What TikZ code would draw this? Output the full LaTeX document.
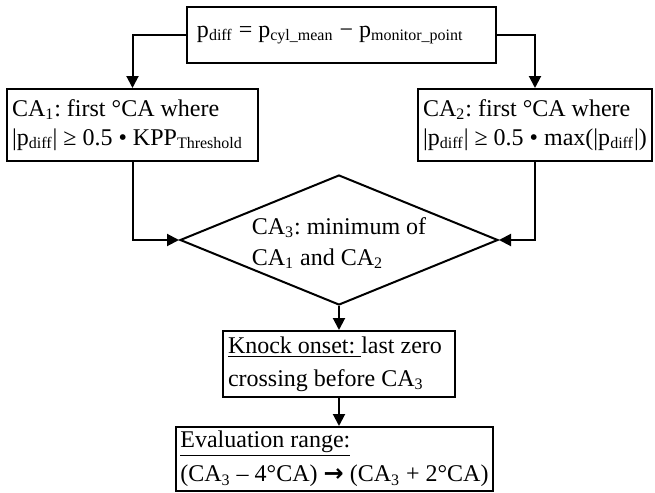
\documentclass[tikz,border=0pt]{standalone}
\usepackage{fontspec}
\setmainfont{Liberation Serif}
\newfontfamily\arrowfont{DejaVu Sans}
\usetikzlibrary{arrows.meta,shapes.geometric}

\tikzset{
  box/.style={draw, line width=1pt, align=flush left, inner xsep=2.5pt, inner ysep=0pt},
  flow/.style={line width=1pt, ->},
}

\begin{document}
\frenchspacing
\begin{tikzpicture}[x=0.5pt, y=-0.5pt, >={Triangle[length=6pt,width=6pt]},
    font=\fontsize{12}{14.5}\selectfont]
    \useasboundingbox (0,0) rectangle (655,493);
    % boxes
    \node[box, inner xsep=5pt, text width=144.5pt, minimum height=28pt] (pdiff) at (341.5,35)
        {p\textsubscript{diff} = p\textsubscript{cyl\_mean} − p\textsubscript{monitor\_point}};
    \node[box, text width=120.5pt, minimum height=36pt] (ca1) at (132.5,125)
        {CA\textsubscript{1}: first °CA where\\|p\textsubscript{diff}| ≥ 0.5 • KPP\textsubscript{Threshold}};
    \node[box, align=left, minimum width=117pt, minimum height=36pt] (ca2) at (535,125)
        {CA\textsubscript{2}: first °CA where\\|p\textsubscript{diff}| ≥ 0.5 • max(|p\textsubscript{diff}|)};
    \node[draw, line width=1pt, diamond, aspect=2.45, minimum width=159pt, minimum height=65pt,
        inner sep=0pt, align=left, font=\fontsize{12}{15.5}\selectfont] (ca3) at (339,240)
        {\\[-4pt]CA\textsubscript{3}: minimum of\\CA\textsubscript{1} and CA\textsubscript{2}};
    \node[box, text width=111pt, minimum height=33pt, font=\fontsize{12}{16.5}\selectfont] (knock) at (339,364)
        {\underline{Knock onset: }last zero\\crossing before CA\textsubscript{3}};
    \node[box, align=left, inner xsep=2pt, minimum width=157.5pt, minimum height=32pt,
        font=\fontsize{12}{17}\selectfont] (eval) at (334.5,459)
        {\underline{Evaluation range:}\\(CA\textsubscript{3} – 4°CA) {\arrowfont\bfseries →} (CA\textsubscript{3} + 2°CA)};
    % connectors
    \draw[flow] (pdiff.west) -| (ca1.north);
    \draw[flow] (pdiff.east) -| (ca2.north);
    \draw[flow] (ca1.south) |- (ca3.west);
    \draw[flow] (ca2.south) |- (ca3.east);
    \draw[flow] (ca3.south) -- (knock.north);
    \draw[flow] (knock.south) -- (knock.south |- eval.north);
\end{tikzpicture}
\end{document}
